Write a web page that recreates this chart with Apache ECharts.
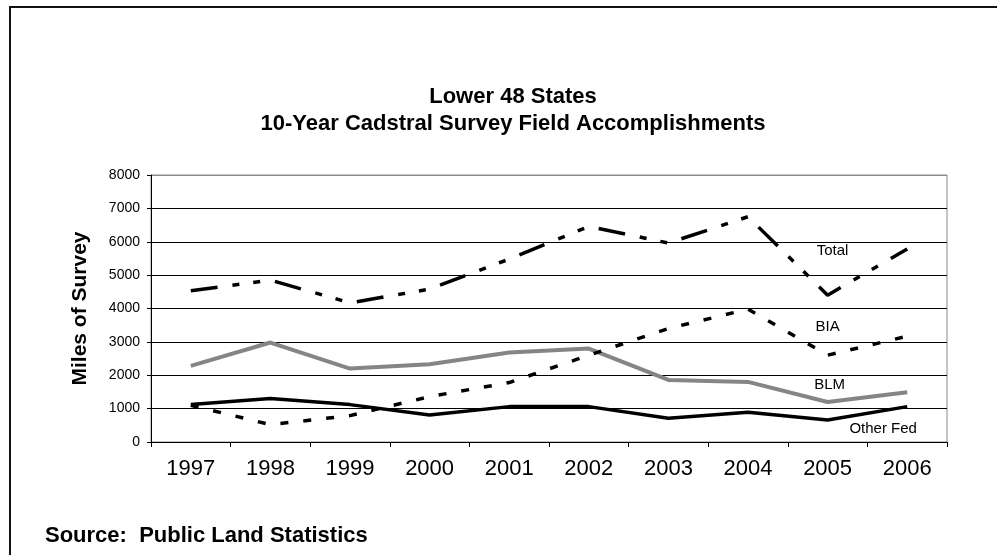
<!DOCTYPE html>
<html>
<head>
<meta charset="utf-8">
<script src="https://cdn.jsdelivr.net/npm/echarts@6/dist/echarts.min.js"></script>
<style>
  html, body { margin: 0; padding: 0; background: #fff; }
  #chart { width: 997px; height: 555px; }
</style>
</head>
<body>
<div id="chart"></div>
<script>
// Cadstral survey field accomplishments, Lower 48 States (miles of survey)
const years = ['1997', '1998', '1999', '2000', '2001', '2002', '2003', '2004', '2005', '2006'];
const totalMiles = [4530, 4850, 4170, 4580, 5480, 6460, 5960, 6750, 4400, 5780];
const biaMiles = [1100, 520, 790, 1360, 1780, 2600, 3400, 3980, 2600, 3170];
const blmMiles = [2280, 2980, 2200, 2330, 2680, 2800, 1860, 1800, 1200, 1490];
const otherFedMiles = [1120, 1300, 1120, 810, 1060, 1060, 710, 890, 660, 1060];

// Series name tags placed in data space next to each line
const tagNames = ['Total', 'BIA', 'BLM', 'Other Fed'];
const tagYears = ['2005', '2005', '2005', '2006'];
const tagValues = [5740, 3460, 1720, 400];

const yTicks = ['0', '1000', '2000', '3000', '4000', '5000', '6000', '7000', '8000'];

const FONT = 'Liberation Sans, Arial, sans-serif';

function tag(i, dx) {
  return {
    symbol: 'circle',
    symbolSize: 0,
    data: [{ coord: [tagYears[i], tagValues[i]] }],
    label: {
      show: true,
      position: 'inside',
      offset: [dx, 0],
      formatter: tagNames[i],
      color: '#000',
      fontFamily: FONT,
      fontSize: 15
    }
  };
}

const chart = echarts.init(document.getElementById('chart'), null, { renderer: 'canvas' });

chart.setOption({
  animation: false,
  backgroundColor: '#fff',
  grid: {
    left: 151,
    right: 50,
    top: 175,
    bottom: 113,
    show: true,
    borderColor: '#8a8a8a',
    borderWidth: 1,
    backgroundColor: 'transparent'
  },
  xAxis: {
    type: 'category',
    data: years,
    boundaryGap: true,
    axisLine: { lineStyle: { color: '#000', width: 1 } },
    axisTick: { show: true, length: 5, lineStyle: { color: '#000' } },
    axisLabel: {
      color: '#000',
      fontFamily: FONT,
      fontSize: 22,
      margin: 16
    },
    splitLine: { show: false }
  },
  yAxis: {
    type: 'value',
    min: 0,
    max: 8000,
    interval: 1000,
    name: 'Miles of Survey',
    nameLocation: 'middle',
    nameGap: 60,
    nameTextStyle: {
      color: '#000',
      fontFamily: FONT,
      fontSize: 21,
      fontWeight: 'bold'
    },
    axisLine: { show: true, lineStyle: { color: '#000', width: 1 } },
    axisTick: { show: true, length: 4, lineStyle: { color: '#000' } },
    axisLabel: {
      color: '#000',
      fontFamily: FONT,
      fontSize: 14,
      margin: 11,
      formatter: function (v) { return yTicks[Math.round(v / 1000)]; }
    },
    splitLine: {
      show: true,
      lineStyle: {
        color: ['#000', '#000', '#000', '#000', '#000', '#000', '#000', '#000', '#8a8a8a'],
        width: 1
      }
    }
  },
  series: [
    {
      name: 'BLM',
      type: 'line',
      data: blmMiles,
      symbol: 'none',
      lineStyle: { color: '#858585', width: 4 },
      z: 3,
      markPoint: tag(2, 2)
    },
    {
      name: 'BIA',
      type: 'line',
      data: biaMiles,
      symbol: 'none',
      lineStyle: { color: '#000', width: 3.5, type: [8, 15] },
      z: 4,
      markPoint: tag(1, 0)
    },
    {
      name: 'Total',
      type: 'line',
      data: totalMiles,
      symbol: 'none',
      lineStyle: { color: '#000', width: 3.5, type: [27, 15, 7, 14, 7, 15] },
      z: 4,
      markPoint: tag(0, 5)
    },
    {
      name: 'Other Fed',
      type: 'line',
      data: otherFedMiles,
      symbol: 'none',
      lineStyle: { color: '#000', width: 3.5 },
      z: 5,
      markPoint: tag(3, -24)
    }
  ],
  graphic: [
    {
      type: 'rect',
      shape: { x: 10, y: 7, width: 1010, height: 600 },
      style: { fill: 'none', stroke: '#111', lineWidth: 2 },
      silent: true
    },
    {
      type: 'text',
      x: 513,
      y: 97,
      style: {
        text: 'Lower 48 States',
        font: 'bold 22px ' + FONT,
        fill: '#000',
        textAlign: 'center',
        textVerticalAlign: 'middle'
      }
    },
    {
      type: 'text',
      x: 513,
      y: 124,
      style: {
        text: '10-Year Cadstral Survey Field Accomplishments',
        font: 'bold 22px ' + FONT,
        fill: '#000',
        textAlign: 'center',
        textVerticalAlign: 'middle'
      }
    },
    {
      type: 'text',
      x: 45,
      y: 536,
      style: {
        text: 'Source:  Public Land Statistics',
        font: 'bold 22px ' + FONT,
        fill: '#000',
        textAlign: 'left',
        textVerticalAlign: 'middle'
      }
    }
  ]
});
</script>
</body>
</html>
